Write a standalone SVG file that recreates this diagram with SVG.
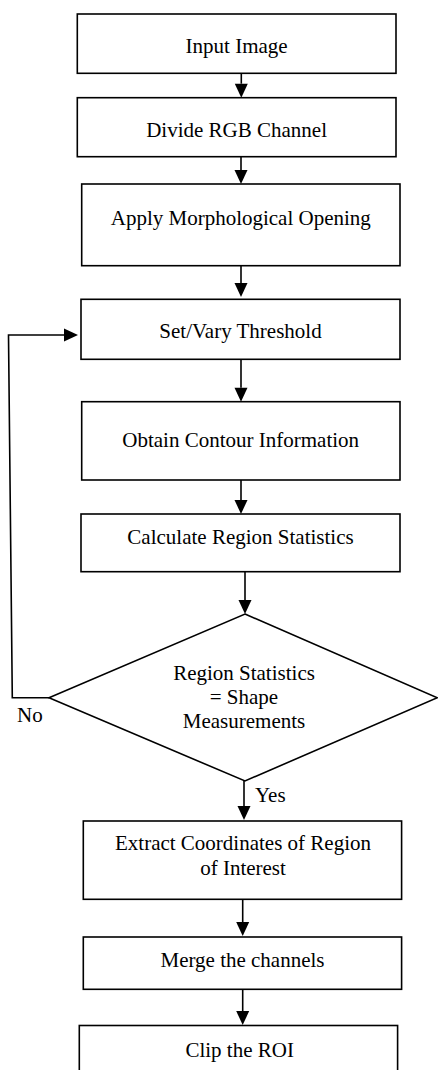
<svg xmlns="http://www.w3.org/2000/svg" width="438" height="1070" viewBox="0 0 438 1070">
<style>
.box{fill:#fff;stroke:#000;stroke-width:1.6}
.t{font-family:"Liberation Serif","Times New Roman",serif;font-size:21px;fill:#000;text-anchor:middle}
.l{font-family:"Liberation Serif","Times New Roman",serif;font-size:21px;fill:#000}
.c{fill:none;stroke:#000;stroke-width:1.6}
</style>
<defs>
<marker id="ah" markerUnits="userSpaceOnUse" markerWidth="16" markerHeight="14" refX="0" refY="6.5" orient="auto" overflow="visible">
<path d="M0,0 L14,6.5 L0,13 z" fill="#000"/>
</marker>
</defs>
<rect width="438" height="1070" fill="#fff"/>
<g id="connectors">
<line class="c" x1="241.3" y1="73.3" x2="241.3" y2="83.7" marker-end="url(#ah)"/>
<line class="c" x1="241" y1="156.7" x2="241" y2="170" marker-end="url(#ah)"/>
<line class="c" x1="241" y1="265.7" x2="241" y2="283" marker-end="url(#ah)"/>
<line class="c" x1="241" y1="359.3" x2="241" y2="387.7" marker-end="url(#ah)"/>
<line class="c" x1="241" y1="480" x2="241" y2="500" marker-end="url(#ah)"/>
<line class="c" x1="245" y1="571.7" x2="245" y2="600" marker-end="url(#ah)"/>
<path class="c" d="M49,697.7 L12.3,697.7 L8.5,335 L64,335" marker-end="url(#ah)"/>
<line class="c" x1="244" y1="781" x2="244" y2="806" marker-end="url(#ah)"/>
<line class="c" x1="242.7" y1="899.3" x2="242.7" y2="922" marker-end="url(#ah)"/>
<line class="c" x1="242.7" y1="989.3" x2="242.7" y2="1011" marker-end="url(#ah)"/>
<text class="l" x="17" y="721.7">No</text>
<text class="l" x="255" y="801.7">Yes</text>
</g>
<g id="n1"><rect class="box" x="77.3" y="14" width="318.7" height="59.3"/><text class="t" x="236.6" y="53">Input Image</text></g>
<g id="n2"><rect class="box" x="77.3" y="97.7" width="318.7" height="59"/><text class="t" x="236.6" y="137">Divide RGB Channel</text></g>
<g id="n3"><rect class="box" x="81.7" y="184" width="318.3" height="81.7"/><text class="t" x="240.8" y="225">Apply Morphological Opening</text></g>
<g id="n4"><rect class="box" x="81" y="299.3" width="319" height="60"/><text class="t" x="240.5" y="338">Set/Vary Threshold</text></g>
<g id="n5"><rect class="box" x="81.7" y="401.7" width="318.3" height="78.3"/><text class="t" x="240.7" y="447">Obtain Contour Information</text></g>
<g id="n6"><rect class="box" x="81" y="514" width="319" height="57.7"/><text class="t" x="240.5" y="544">Calculate Region Statistics</text></g>
<g id="n7"><polygon class="box" points="245,614 437.3,697.7 245,781 49,697.7"/>
<text class="t" x="244" y="680">Region Statistics</text>
<text class="t" x="244" y="704">= Shape</text>
<text class="t" x="244" y="728">Measurements</text></g>
<g id="n8"><rect class="box" x="83.3" y="821" width="318.3" height="78.3"/>
<text class="t" x="243" y="850">Extract Coordinates of Region</text>
<text class="t" x="243" y="875">of Interest</text></g>
<g id="n9"><rect class="box" x="83.3" y="937" width="318.3" height="52.3"/><text class="t" x="242.5" y="966.7">Merge the channels</text></g>
<g id="n10"><rect class="box" x="79.3" y="1025.5" width="318.3" height="60"/><text class="t" x="239.7" y="1056.7">Clip the ROI</text></g>
</svg>
